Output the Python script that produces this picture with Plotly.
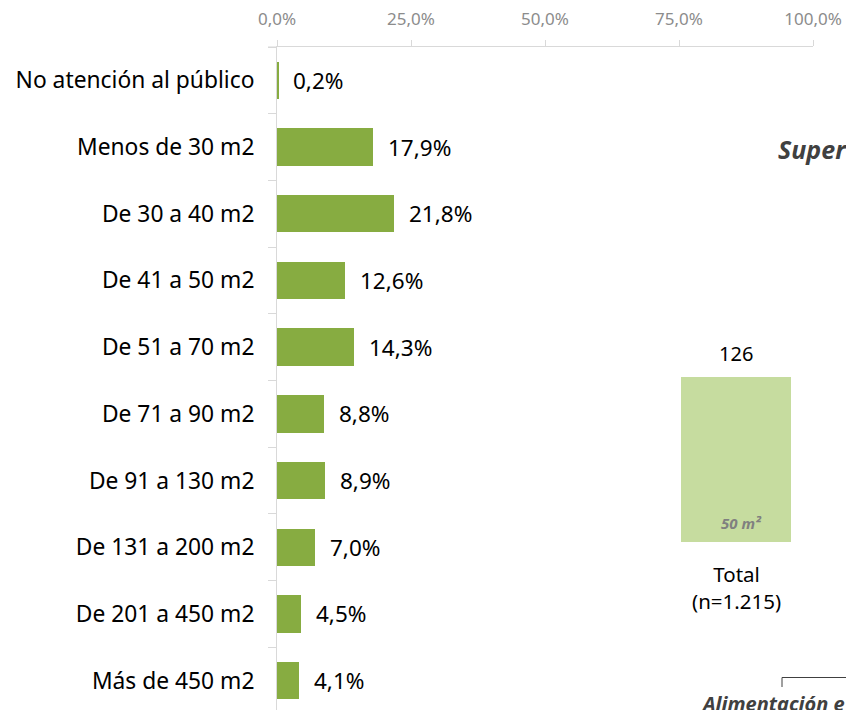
import plotly.graph_objects as go

categories = ["No atención al público", "Menos de 30 m2", "De 30 a 40 m2", "De 41 a 50 m2",
              "De 51 a 70 m2", "De 71 a 90 m2", "De 91 a 130 m2", "De 131 a 200 m2",
              "De 201 a 450 m2", "Más de 450 m2"]
values = [0.2, 17.9, 21.8, 12.6, 14.3, 8.8, 8.9, 7.0, 4.5, 4.1]
x_ticks = [0, 25, 50, 75, 100]
x_tick_labels = ["0,0%", "25,0%", "50,0%", "75,0%", "100,0%"]

side_category = ["Total"]
side_value = [126]
side_inner_label = "50 m²"
side_axis_label = "Total<br>(n=1.215)"
side_title = "Super"
side_bracket_label = "Alimentación e"

FONT = "Noto Sans"
W, H = 846, 710
L, R, T, B = 277, 33, 47, 0
PW, PH = W - L - R, H - T - B

def px_x(x):
    return (x - L) / PW

def px_y(y):
    return (H - B - y) / PH

def fmt(v):
    return f"{v:.1f}".replace(".", ",") + "%"

fig = go.Figure()
fig.add_trace(go.Bar(
    x=values, y=categories, orientation="h", width=0.56,
    marker=dict(color="#87AC41", line=dict(width=0)),
    xaxis="x", yaxis="y", hoverinfo="skip",
))
fig.add_trace(go.Bar(
    x=side_category, y=side_value, width=1.0,
    marker=dict(color="#C6DC9F", line=dict(width=0)),
    xaxis="x2", yaxis="y2", hoverinfo="skip",
))

annotations = []
for c, v in zip(categories, values):
    annotations.append(dict(x=v, y=c, xref="x", yref="y", text=fmt(v), showarrow=False,
                            xanchor="left", xshift=13, font=dict(family=FONT, size=22.5, color="#000000")))
annotations.append(dict(x=side_category[0], y=side_value[0], xref="x2", yref="y2", text=str(side_value[0]),
                        showarrow=False, yanchor="bottom", yshift=8,
                        font=dict(family=FONT, size=20, color="#000000")))
annotations.append(dict(x=side_category[0], y=0, xref="x2", yref="y2", text="<b><i>" + side_inner_label + "</i></b>",
                        showarrow=False, yanchor="bottom", yshift=7, xshift=5,
                        font=dict(family=FONT, size=15, color="#808080")))
annotations.append(dict(x=side_category[0], y=0, xref="x2", yref="y2", text=side_axis_label,
                        showarrow=False, yanchor="top", yshift=-16,
                        font=dict(family=FONT, size=20.5, color="#000000")))
annotations.append(dict(x=px_x(776), y=px_y(149), xref="paper", yref="paper",
                        text="<b><i>" + side_title + "</i></b>", showarrow=False,
                        xanchor="left", yanchor="middle",
                        font=dict(family=FONT, size=25, color="#404040")))
annotations.append(dict(x=px_x(699), y=px_y(703), xref="paper", yref="paper",
                        text="<b><i>" + side_bracket_label + "</i></b>", showarrow=False,
                        xanchor="left", yanchor="middle",
                        font=dict(family=FONT, size=20, color="#404040")))

shapes = [
    # x-axis line extension to the left of zero
    dict(type="line", xref="paper", yref="paper", x0=px_x(268), x1=px_x(277), y0=1, y1=1,
         line=dict(color="#D9D9D9", width=1)),
    # bracket
    dict(type="line", xref="paper", yref="paper", x0=px_x(782), x1=px_x(900), y0=px_y(677.5), y1=px_y(677.5),
         line=dict(color="#404040", width=1)),
    dict(type="line", xref="paper", yref="paper", x0=px_x(782), x1=px_x(782), y0=px_y(677.5), y1=px_y(687),
         line=dict(color="#404040", width=1)),
]

fig.update_layout(
    width=W, height=H,
    margin=dict(l=L, r=R, t=T, b=B, pad=0),
    paper_bgcolor="white", plot_bgcolor="white",
    showlegend=False, bargap=0,
    font=dict(family=FONT, size=20, color="#000000"),
    annotations=annotations, shapes=shapes,
    xaxis=dict(domain=[0, 1], range=[0, 100], side="top", tickvals=x_ticks, ticktext=x_tick_labels,
               showgrid=False, zeroline=False, showline=True, linecolor="#D9D9D9", linewidth=1,
               ticks="outside", ticklen=6, tickcolor="#D9D9D9",
               tickfont=dict(family=FONT, size=17, color="#8C8C8C"), ticklabelstandoff=8,
               fixedrange=True),
    yaxis=dict(domain=[0, 1], autorange=False, range=[9.44, -0.5], type="category",
               showgrid=False, zeroline=False, showline=True, linecolor="#D9D9D9", linewidth=1,
               ticks="outside", tickson="boundaries", ticklen=8, tickcolor="#D9D9D9",
               tickfont=dict(family=FONT, size=22.8, color="#000000"), ticklabelstandoff=17,
               fixedrange=True),
    xaxis2=dict(domain=[px_x(681), px_x(791)], range=[-0.5, 0.5], anchor="y2", type="category",
                visible=False, fixedrange=True),
    yaxis2=dict(domain=[px_y(542), px_y(377)], range=[0, side_value[0]], anchor="x2",
                visible=False, fixedrange=True),
)

fig.write_html("out.html", config={"displayModeBar": False},
               post_script="document.body.style.margin='0';document.body.style.padding='0';")
